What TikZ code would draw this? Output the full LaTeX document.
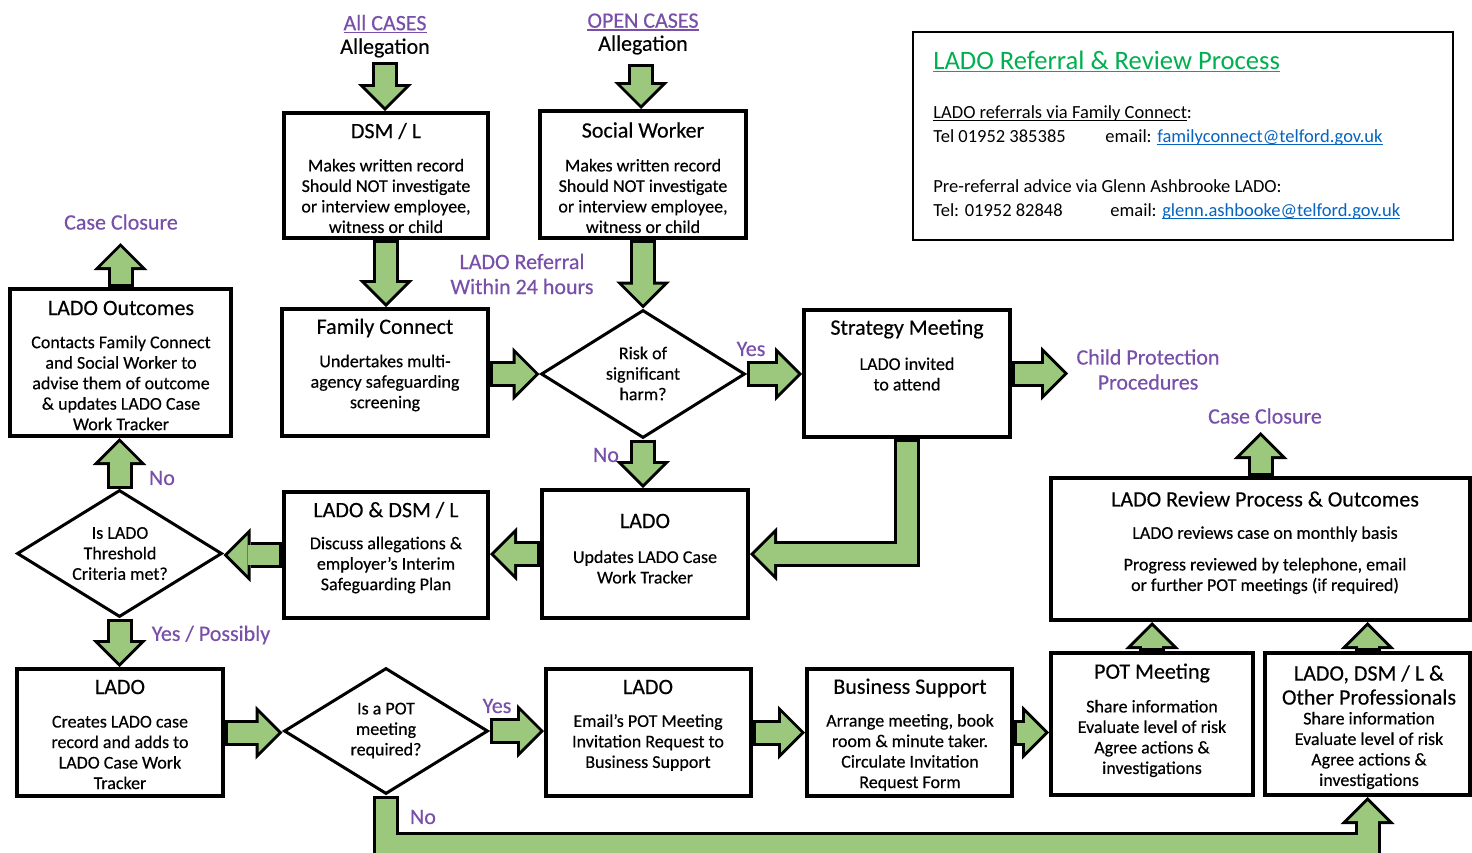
\documentclass[tikz,border=0pt]{standalone}
\usepackage{fontspec}
\setmainfont{Carlito}
\newfontfamily\dfont{Carlito}[FakeBold=0.35]
\usetikzlibrary{arrows.meta,shapes.geometric,calc}
\definecolor{agreen}{RGB}{155,200,125}
\definecolor{lpurple}{RGB}{120,80,170}
\definecolor{tgreen}{RGB}{0,176,80}
\definecolor{lblue}{RGB}{5,99,193}
\newcommand\myul[1]{\setbox0\hbox{#1}\rlap{\rule[-1.4pt]{\wd0}{0.6pt}}\box0}
\tikzset{
 box/.style={draw, line width=2pt, fill=white, inner sep=0pt},
 dia/.style={diamond, draw, line width=1.5pt, fill=white, inner sep=0pt},
 hd/.style={font=\dfont\fontsize{11}{12}\selectfont, inner sep=0pt, align=center},
 bd/.style={font=\dfont\fontsize{9}{10.25}\selectfont, align=center, inner sep=0pt},
 lab/.style={font=\dfont\fontsize{11}{12.5}\selectfont, text=lpurple, align=center, inner sep=0pt},
 info/.style={font=\fontsize{9.25}{11}\selectfont, anchor=base west, inner sep=0pt},
 blk/.style={line width=10pt, draw=agreen, line join=miter, shorten >=2.12pt, shorten <=1.5pt,
   -{Triangle[width=19.76pt, length=9.88pt, line width=0pt, fill=agreen]},
   preaction={draw=black, line width=13pt, shorten >=0pt, shorten <=0pt,
     -{Triangle[width=27pt, length=13.5pt, line width=0pt, fill=black]}}}
}
\begin{document}
\begin{tikzpicture}[x=0.5pt, y=-0.5pt]
\useasboundingbox (0,0) rectangle (1472,852);
\fill[white] (0,0) rectangle (1472,852);

% boxes
\node[box, minimum width=102pt, minimum height=62.5pt] (dsm) at (386,175.5) {};
\node[box, minimum width=103pt, minimum height=63.5pt] (sw) at (643,174.5) {};
\node[box, minimum width=103pt, minimum height=63.5pt] (fc) at (385,372.5) {};
\node[box, minimum width=110.5pt, minimum height=73.5pt] (outc) at (120.5,362.5) {};
\node[box, minimum width=103pt, minimum height=63.5pt] (strat) at (907,373.5) {};
\node[box, minimum width=103pt, minimum height=64pt] (upd) at (645,554) {};
\node[box, minimum width=102pt, minimum height=63pt] (ldsm) at (386,555) {};
\node[box, minimum width=103pt, minimum height=63.5pt] (crt) at (120,732.5) {};
\node[box, minimum width=102.5pt, minimum height=63.5pt] (eml) at (648.5,732.5) {};
\node[box, minimum width=102.5pt, minimum height=63.5pt] (bs) at (909.5,732.5) {};
\node[box, minimum width=101pt, minimum height=71pt] (potm) at (1152,724) {};
\node[box, minimum width=102.5pt, minimum height=71pt] (oth) at (1367.5,724) {};
\node[box, minimum width=209.5pt, minimum height=71pt] (rev) at (1260.5,549) {};
\node[draw, line width=1pt, inner sep=0pt, minimum width=270pt, minimum height=104pt] (info) at (1183,136) {};

% diamonds
\node[dia, minimum width=102pt, minimum height=64pt] (risk) at (643,374) {};
\node[dia, minimum width=102.5pt, minimum height=63.5pt] (thr) at (119.5,553.5) {};
\node[dia, minimum width=102pt, minimum height=63pt] (pot) at (386,731) {};

% free ends
\coordinate (a1s) at (385,62);
\coordinate (a2s) at (641,64);
\coordinate (cpt) at (1068,373.5);
\coordinate (cc1) at (121,243);
\coordinate (cc2) at (1266,432);
\coordinate (nob) at (386,845);

% block arrows
\draw[blk] (a1s) -- (a1s |- dsm.north);
\draw[blk] (a2s) -- (a2s |- sw.north);
\draw[blk] (dsm.south) -- (dsm.south |- fc.north);
\draw[blk] (sw.south) -- (sw.south |- risk.north);
\draw[blk] (fc.east |- risk.west) -- (risk.west);
\draw[blk] (risk.east) -- (risk.east -| strat.west);
\draw[blk] (strat.east) -- (cpt);
\draw[blk] (risk.south) -- (risk.south |- upd.north);
\draw[blk] (strat.south) |- (upd.east);
\draw[blk] (upd.west) -- (upd.west -| ldsm.east);
\draw[blk] (ldsm.west) -- (ldsm.west -| thr.east);
\draw[blk] (thr.north) -- (thr.north |- outc.south);
\draw[blk] (outc.north) -- (outc.north |- cc1);
\draw[blk] (thr.south) -- (thr.south |- crt.north);
\draw[blk] (crt.east) -- (crt.east -| pot.west);
\draw[blk] (pot.east) -- (pot.east -| eml.west);
\draw[blk] (eml.east) -- (eml.east -| bs.west);
\draw[blk] (bs.east) -- (bs.east -| potm.west);
\draw[blk] (potm.north) -- (potm.north |- rev.south);
\draw[blk] (oth.north) -- (oth.north |- rev.south);
\draw[blk] (rev.north) -- (rev.north |- cc2);
\draw[blk] (pot.south) -- (pot.south |- nob) -| (oth.south);

% top labels
\node[lab] (allc1) at (385,24) {\myul{All CASES}};
\node[hd] (allg1) at (385,48) {Allegation};
\node[lab] (allc2) at (643,22) {\myul{OPEN CASES}};
\node[hd] (allg2) at (643,45) {Allegation};

% box texts
\node[hd] (dsm-h) at (386,131) {DSM / L};
\node[bd] (dsm-b) at (386,196) {Makes written record\\Should NOT investigate\\or interview employee,\\witness or child};
\node[hd] (sw-h) at (643,130) {Social Worker};
\node[bd] (sw-b) at (643,196) {Makes written record\\Should NOT investigate\\or interview employee,\\witness or child};
\node[hd] (fc-h) at (385,328) {Family Connect};
\node[bd] (fc-b) at (385,383) {Undertakes multi-\\agency safeguarding\\screening};
\node[bd] (risk-t) at (643,373.5) {Risk of\\significant\\harm?};
\node[hd] (strat-h) at (907,329) {Strategy Meeting};
\node[bd] (strat-b) at (907,374) {LADO invited\\to attend};
\node[hd] (outc-h) at (121,308) {LADO Outcomes};
\node[bd] (outc-b) at (121,383) {Contacts Family Connect\\and Social Worker to\\advise them of outcome\\\& updates LADO Case\\Work Tracker};
\node[hd] (upd-h) at (645,521) {LADO};
\node[bd] (upd-b) at (645,567) {Updates LADO Case\\Work Tracker};
\node[hd] (ldsm-h) at (386,510) {LADO \& DSM / L};
\node[bd] (ldsm-b) at (386,565) {Discuss allegations \&\\employer’s Interim\\Safeguarding Plan};
\node[bd] (thr-t) at (120,553.5) {Is LADO\\Threshold\\Criteria met?};
\node[hd] (crt-h) at (120,687) {LADO};
\node[bd] (crt-b) at (120,752.5) {Creates LADO case\\record and adds to\\LADO Case Work\\Tracker};
\node[bd] (pot-t) at (386,730.5) {Is a POT\\meeting\\required?};
\node[hd] (eml-h) at (648,687) {LADO};
\node[bd] (eml-b) at (648,742.5) {Email’s POT Meeting\\Invitation Request to\\Business Support};
\node[hd] (bs-h) at (910,688) {Business Support};
\node[bd] (bs-b) at (910,752.5) {Arrange meeting, book\\room \& minute taker.\\Circulate Invitation\\Request Form};
\node[hd] (potm-h) at (1152,673) {POT Meeting};
\node[bd] (potm-b) at (1152,738.5) {Share information\\Evaluate level of risk\\Agree actions \&\\investigations};
\node[hd] (oth-h) at (1369,685) {LADO, DSM / L \&\\Other Professionals};
\node[bd] (oth-b) at (1369,750.5) {Share information\\Evaluate level of risk\\Agree actions \&\\investigations};
\node[hd] (rev-h) at (1265,499) {LADO Review Process \& Outcomes};
\node[bd] (rev-b1) at (1265,534) {LADO reviews case on monthly basis};
\node[bd] (rev-b2) at (1265,576) {Progress reviewed by telephone, email\\or further POT meetings (if required)};

% purple labels
\node[lab] (lref) at (522,274) {LADO Referral\\Within 24 hours};
\node[lab] (cpp) at (1148,369.5) {Child Protection\\Procedures};
\node[lab] (ccl1) at (121,222) {Case Closure};
\node[lab] (ccl2) at (1265,416) {Case Closure};
\node[lab] (yes1) at (751,349) {Yes};
\node[lab] (no1) at (606,455) {No};
\node[lab] (no2) at (162,478) {No};
\node[lab] (yp) at (211,635) {Yes / Possibly};
\node[lab] (yes2) at (497,706) {Yes};
\node[lab] (no3) at (423,817) {No};

% info box
\node[info, font=\fontsize{13.3}{15}\selectfont, text=tgreen] (ttl) at (933,69) {\myul{LADO Referral \& Review Process}};
\node[info] (i1) at (933,118) {\myul{LADO referrals via Family Connect}:};
\node[info] (i2) at (933,142) {Tel 01952 385385};
\node[info] (i3) at (1105,142) {email: \textcolor{lblue}{\myul{familyconnect@telford.gov.uk}}};
\node[info] (i4) at (933,192) {Pre-referral advice via Glenn Ashbrooke LADO:};
\node[info] (i5) at (933,216) {Tel: 01952 82848};
\node[info] (i6) at (1110,216) {email: \textcolor{lblue}{\myul{glenn.ashbooke@telford.gov.uk}}};
\end{tikzpicture}
\end{document}
